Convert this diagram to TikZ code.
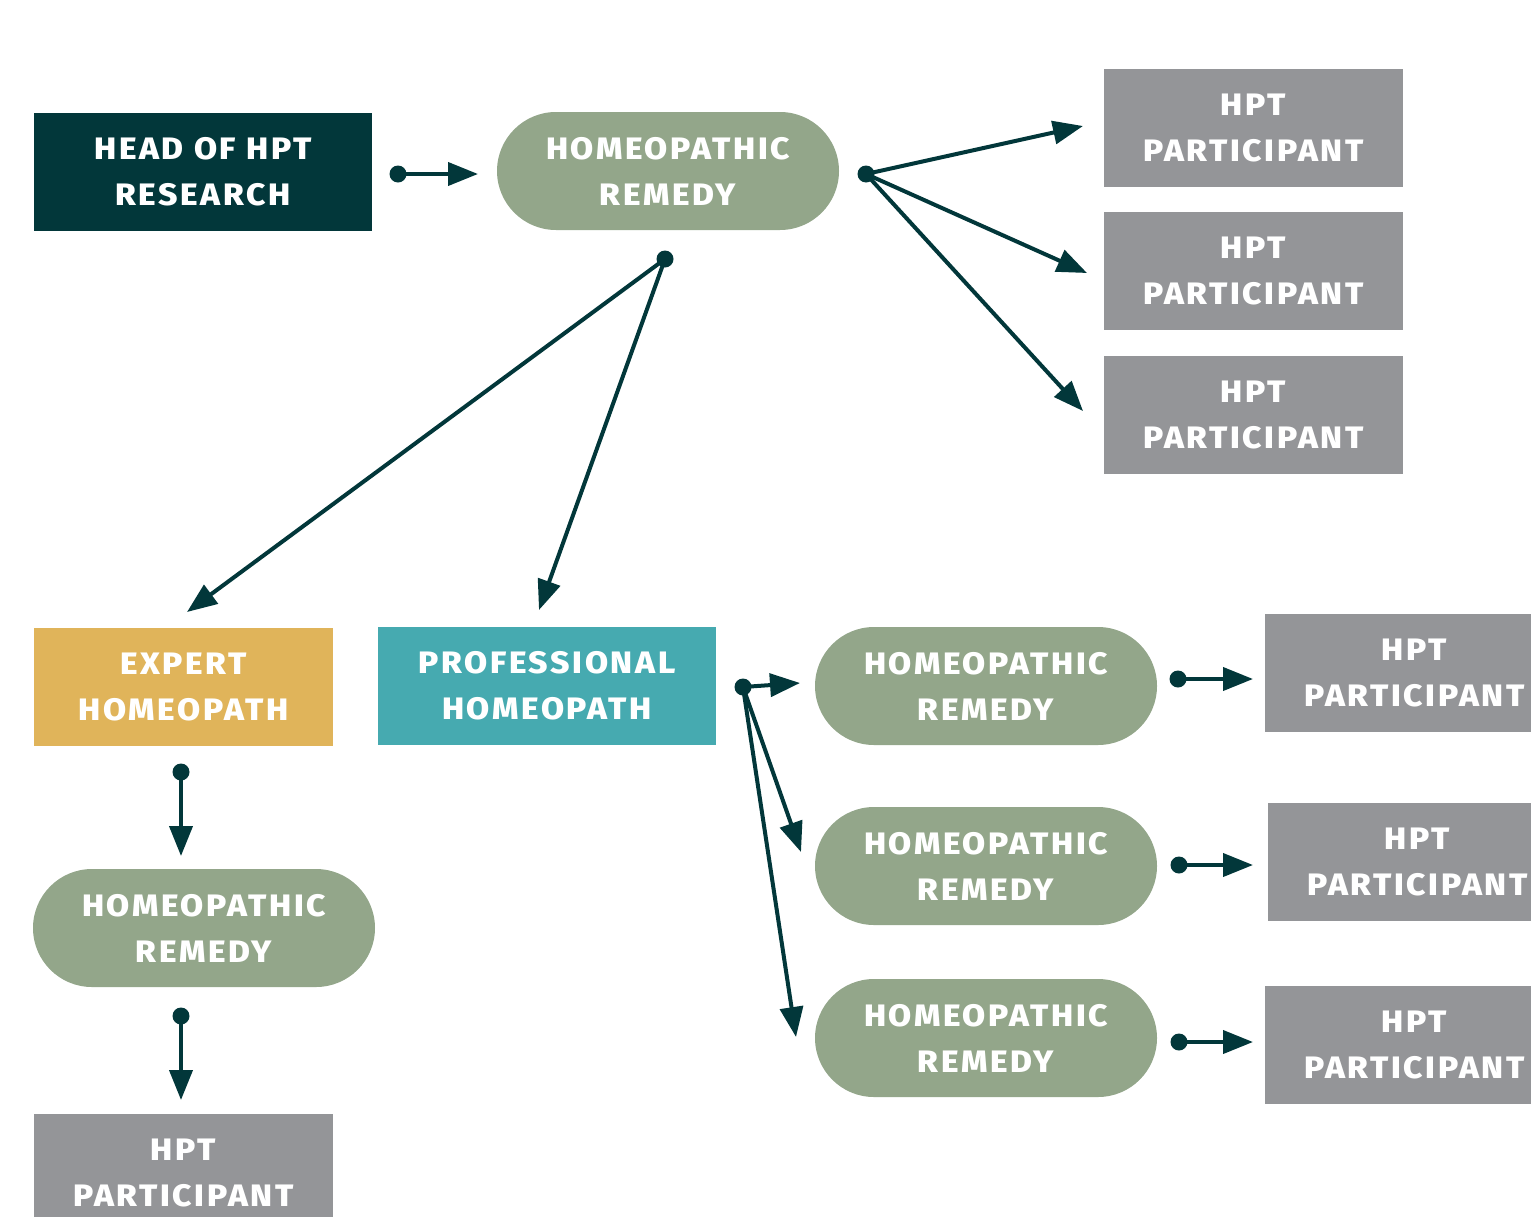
\documentclass[tikz,border=0pt]{standalone}
\usepackage{fontspec}
\setmainfont{Fira Sans}[UprightFont=* ExtraBold, LetterSpace=8.5, FakeStretch=1.08]
\usetikzlibrary{arrows.meta}
\definecolor{darkteal}{HTML}{02373A}
\definecolor{sage}{HTML}{93A68A}
\definecolor{greybox}{HTML}{949598}
\definecolor{gold}{HTML}{E0B45A}
\definecolor{tealbox}{HTML}{46AAB0}
\tikzset{
  base/.style={text=white, align=center, inner sep=0pt, minimum height=59pt,
    font=\fontsize{15.5}{23}\selectfont},
  headbox/.style={base, fill=darkteal, minimum width=169pt},
  pill/.style={base, fill=sage, minimum width=171pt, rounded corners=29.5pt},
  partbox/.style={base, fill=greybox, minimum width=149.5pt},
  expertbox/.style={base, fill=gold, minimum width=149.5pt},
  profbox/.style={base, fill=tealbox, minimum width=169pt},
  conn/.style={draw=darkteal, line width=2pt, -{Triangle[length=15pt,width=11.5pt]}},
  dot/.style={fill=darkteal}
}
\begin{document}
\begin{tikzpicture}[x=0.5pt,y=-0.5pt]
\useasboundingbox (0,0) rectangle (1531,1216);
\clip (0,0) rectangle (1531,1216);
% nodes
\node[headbox] (head) at (203,172) {HEAD OF HPT\\RESEARCH};
\node[pill] (rem0) at (668,171) {HOMEOPATHIC\\REMEDY};
\node[partbox] (p1) at (1253.5,128) {HPT\\PARTICIPANT};
\node[partbox] (p2) at (1253.5,271) {HPT\\PARTICIPANT};
\node[partbox] (p3) at (1253.5,415) {HPT\\PARTICIPANT};
\node[expertbox] (expert) at (183.5,687) {EXPERT\\HOMEOPATH};
\node[profbox] (prof) at (547,686) {PROFESSIONAL\\HOMEOPATH};
\node[pill] (remL) at (204,928) {HOMEOPATHIC\\REMEDY};
\node[partbox] (pL) at (183.5,1173) {HPT\\PARTICIPANT};
\node[pill] (remR1) at (986,686) {HOMEOPATHIC\\REMEDY};
\node[pill] (remR2) at (986,866) {HOMEOPATHIC\\REMEDY};
\node[pill] (remR3) at (986,1038) {HOMEOPATHIC\\REMEDY};
\node[partbox] (pR1) at (1414.5,673) {HPT\\PARTICIPANT};
\node[partbox] (pR2) at (1417.5,862) {HPT\\PARTICIPANT};
\node[partbox] (pR3) at (1414.5,1045) {HPT\\PARTICIPANT};
% dots and tips
\coordinate (d1) at (398,174); \coordinate (t1) at (478,174);
\coordinate (d2) at (866,174);
\coordinate (t2a) at (1083,126); \coordinate (t2b) at (1087,273); \coordinate (t2c) at (1083,411);
\coordinate (d3) at (665,259);
\coordinate (t3a) at (187,612); \coordinate (t3b) at (539,610);
\coordinate (d4) at (181,772); \coordinate (t4) at (181,856);
\coordinate (d5) at (181,1016); \coordinate (t5) at (181,1100);
\coordinate (d6) at (743,687);
\coordinate (t6a) at (800,683); \coordinate (t6b) at (801,852); \coordinate (t6c) at (796,1037);
\coordinate (d7) at (1178,679); \coordinate (t7) at (1253,679);
\coordinate (d8) at (1179,865); \coordinate (t8) at (1253,865);
\coordinate (d9) at (1179,1042); \coordinate (t9) at (1253,1042);
% connectors
\foreach \a/\b in {d1/t1,d2/t2a,d2/t2b,d2/t2c,d3/t3a,d3/t3b,d4/t4,d5/t5,d6/t6a,d6/t6b,d6/t6c,d7/t7,d8/t8,d9/t9}
  \draw[conn] (\a) -- (\b);
\foreach \a in {d1,d2,d3,d4,d5,d6,d7,d8,d9}
  \fill[dot] (\a) circle (4.25pt);
\end{tikzpicture}
\end{document}
